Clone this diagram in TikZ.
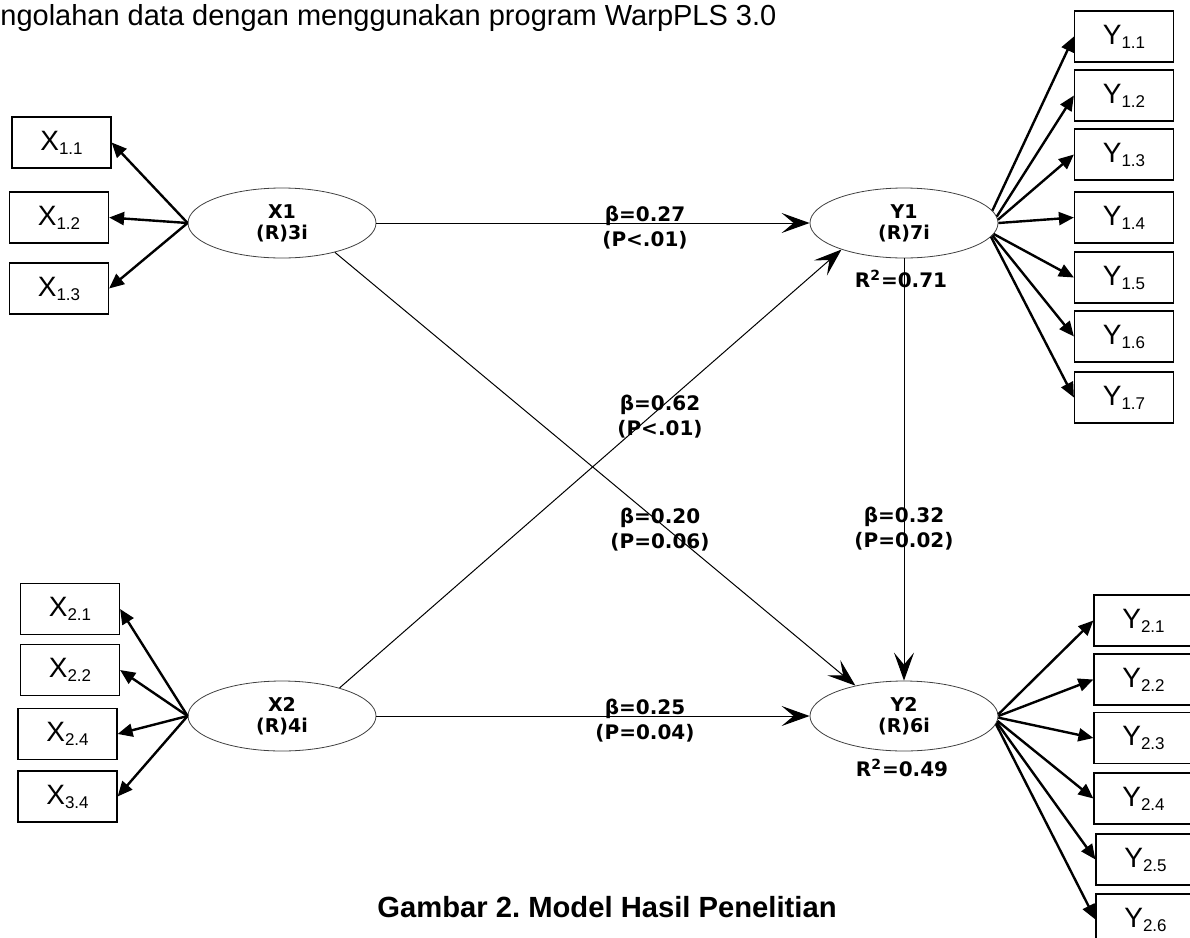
\documentclass[tikz,border=0pt]{standalone}
\usepackage{fontspec}
\setmainfont{Liberation Sans}
\newfontfamily\pathfont{DejaVu Sans}
\usepackage{tikz}
\usetikzlibrary{arrows.meta, positioning, shapes.geometric}

\newcommand{\indlab}[2]{#1\raisebox{-2pt}{\fontsize{8.5}{10}\selectfont #2}}

\begin{document}
\begin{tikzpicture}[x=0.5pt, y=-0.5pt, >={Stealth[length=14pt,width=10pt,inset=6pt]}]
      \tikzstyle{latent}=[ellipse, draw=black!75, line width=0.4pt, minimum width=94pt, minimum height=35pt, inner sep=0pt, align=center, font=\pathfont\bfseries\fontsize{9.5}{10.5}\selectfont]
      \tikzstyle{indicator}=[rectangle, draw, line width=0.6pt, minimum width=49.5pt, minimum height=25.5pt, inner sep=0pt, font=\fontsize{14}{16}\selectfont]
      \tikzstyle{coef}=[align=center, inner sep=0pt, font=\pathfont\bfseries\fontsize{10}{12.5}\selectfont]
      \tikzstyle{structural}=[->, line width=0.5pt]
      \tikzstyle{loading}=[-{Triangle[length=7.5pt,width=6.5pt]}, line width=1.2pt]
      \useasboundingbox (0,0) rectangle (1190,938);
      \clip (0,0) rectangle (1190,938);
      % title and caption
      \node[anchor=base west, inner sep=0pt, font=\fontsize{14.5}{17}\selectfont] (title) at (0,25) {ngolahan data dengan menggunakan program WarpPLS 3.0};
      \node[anchor=base, inner sep=0pt, font=\bfseries\fontsize{14.6}{17}\selectfont] (caption) at (607,917) {Gambar 2.\ Model Hasil Penelitian};
      % latent variables
      \node[latent] (X1) at (282,223) {X1\\(R)3i};
      \node[latent] (Y1) at (904,223) {Y1\\(R)7i};
      \node[latent] (X2) at (282,716) {X2\\(R)4i};
      \node[latent] (Y2) at (904,716) {Y2\\(R)6i};
      \node[coef] (R2Y1) at (901,279) {R\textsuperscript{2}=0.71};
      \node[coef] (R2Y2) at (902,768) {R\textsuperscript{2}=0.49};
      % indicators
      \node[indicator] (X11) at (61.5,142.5) {\indlab{X}{1.1}};
      \node[indicator] (X12) at (59,217.5) {\indlab{X}{1.2}};
      \node[indicator] (X13) at (59,288.5) {\indlab{X}{1.3}};
      \node[indicator] (X21) at (70,609) {\indlab{X}{2.1}};
      \node[indicator] (X22) at (70,670) {\indlab{X}{2.2}};
      \node[indicator] (X24) at (67.5,734) {\indlab{X}{2.4}};
      \node[indicator] (X34) at (67.5,796.5) {\indlab{X}{3.4}};
      \node[indicator] (Y11) at (1124,36.5) {\indlab{Y}{1.1}};
      \node[indicator] (Y12) at (1124,95.5) {\indlab{Y}{1.2}};
      \node[indicator] (Y13) at (1124,154.5) {\indlab{Y}{1.3}};
      \node[indicator] (Y14) at (1124,217.5) {\indlab{Y}{1.4}};
      \node[indicator] (Y15) at (1124,277.5) {\indlab{Y}{1.5}};
      \node[indicator] (Y16) at (1124,336.5) {\indlab{Y}{1.6}};
      \node[indicator] (Y17) at (1124,397.5) {\indlab{Y}{1.7}};
      \node[indicator] (Y21) at (1143.5,620.5) {\indlab{Y}{2.1}};
      \node[indicator] (Y22) at (1143.5,679.5) {\indlab{Y}{2.2}};
      \node[indicator] (Y23) at (1143.5,738) {\indlab{Y}{2.3}};
      \node[indicator] (Y24) at (1143.5,798.5) {\indlab{Y}{2.4}};
      \node[indicator] (Y25) at (1145.5,859.5) {\indlab{Y}{2.5}};
      \node[indicator] (Y26) at (1145.5,919.5) {\indlab{Y}{2.6}};
      % loadings
      \path (X1.west) edge [loading] (X11.east);
      \path (X1.west) edge [loading] (X12.east);
      \path (X1.west) edge [loading] (X13.east);
      \path (X2.west) edge [loading] (X21.east);
      \path (X2.west) edge [loading] (X22.east);
      \path (X2.west) edge [loading] (X24.east);
      \path (X2.west) edge [loading] (X34.east);
      \path (Y1.8) edge [loading] (Y11.west);
      \path (Y1.4) edge [loading] (Y12.west);
      \path (Y1.2) edge [loading] (Y13.west);
      \path (Y1.0) edge [loading] (Y14.west);
      \path (Y1.-7) edge [loading] (Y15.west);
      \path (Y1.-8) edge [loading] (Y16.west);
      \path (Y1.-9) edge [loading] (Y17.west);
      \path (Y2.1) edge [loading] (Y21.west);
      \path (Y2.0) edge [loading] (Y22.west);
      \path (Y2.-1) edge [loading] (Y23.west);
      \path (Y2.-3) edge [loading] (Y24.west);
      \path (Y2.-4) edge [loading] (Y25.west);
      \path (Y2.-5) edge [loading] (Y26.west);
      % structural paths
      \path (X1) edge [structural] node[coef, pos=0.62, yshift=-2.5pt] {β=0.27\\(P<.01)} (Y1);
      \path (X2) edge [structural] node[coef, pos=0.62, yshift=-2.5pt] {β=0.25\\(P=0.04)} (Y2);
      \path (Y1) edge [structural] node[coef, pos=0.64] {β=0.32\\(P=0.02)} (Y2);
      \path (X2.26) edge [structural] (Y1.203);
      \path (X1.-29) edge [structural] (Y2.148);
      \node[coef] (bX2Y1) at (660,417) {β=0.62\\(P<.01)};
      \node[coef] (bX1Y2) at (660,530) {β=0.20\\(P=0.06)};
    \end{tikzpicture}
\end{document}
